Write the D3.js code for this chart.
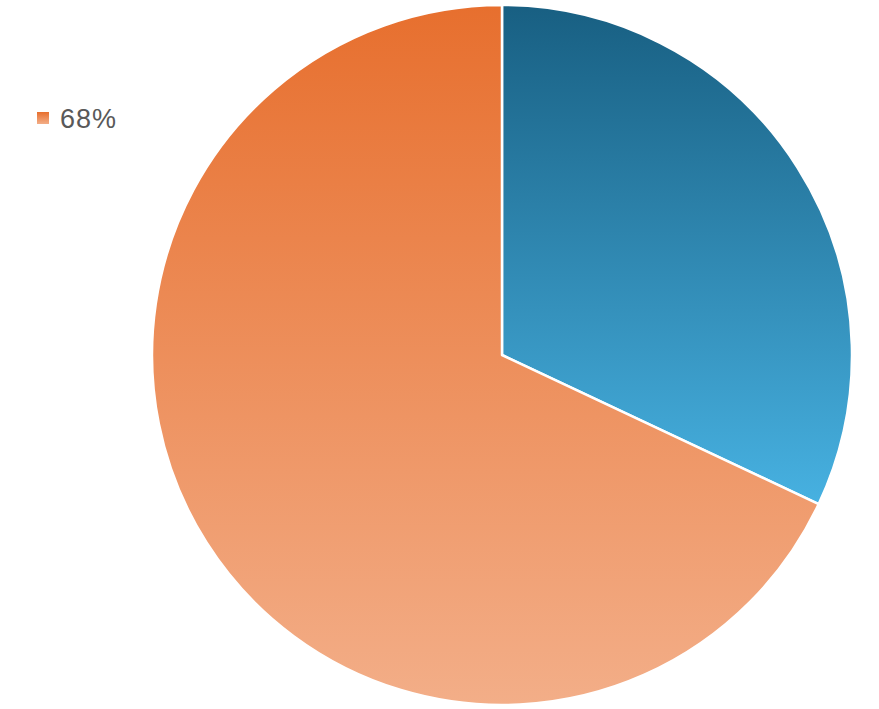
<!DOCTYPE html>
<html>
<head>
<meta charset="utf-8">
<script src="https://cdn.jsdelivr.net/npm/d3@7"></script>
<style>
  body { margin: 0; background: #fff; }
  svg { display: block; }
</style>
</head>
<body>
<svg id="chart" width="879" height="709"></svg>
<script>
// slice data
const labels = ["32%", "68%"];
const values = [32, 68];
const topColors = ["#185f82", "#e76f2e"];
const bottomColors = ["#47b1e1", "#f3ae88"];
const legendShown = ["68%"];

const svg = d3.select("#chart");
const width = 879, height = 709;
const cx = 502, cy = 355, radius = 350;

// one vertical gradient per slice
let defs = svg.append("defs");
labels.forEach(function(l, i) {
  let g = defs.append("linearGradient")
    .attr("id", "grad" + i)
    .attr("x1", 0).attr("y1", 0)
    .attr("x2", 0).attr("y2", 1);
  g.append("stop").attr("offset", "0%").attr("stop-color", topColors[i]);
  g.append("stop").attr("offset", "100%").attr("stop-color", bottomColors[i]);
});

let pie = d3.pie().sort(null).value(function(d) { return d; });
let arc = d3.arc().innerRadius(0).outerRadius(radius);

let g = svg.append("g").attr("transform", "translate(" + cx + "," + cy + ")");
g.selectAll("path")
  .data(pie(values))
  .enter().append("path")
  .attr("d", arc)
  .attr("fill", function(d, i) { return "url(#grad" + i + ")"; })
  .attr("stroke", "#fff")
  .attr("stroke-width", 2.5)
  .attr("stroke-linejoin", "round");

// legend
let legend = svg.append("g").attr("transform", "translate(37,112)");
let items = legend.selectAll("g")
  .data(legendShown)
  .enter().append("g")
  .attr("transform", function(d, i) { return "translate(0," + i * 30 + ")"; });
items.append("rect")
  .attr("width", 12).attr("height", 12)
  .attr("fill", function(d) { return "url(#grad" + labels.indexOf(d) + ")"; });
items.append("text")
  .attr("x", 23).attr("y", 6)
  .attr("dy", "0.36em")
  .attr("font-family", "Liberation Sans, Arial, sans-serif")
  .attr("font-size", 27)
  .attr("letter-spacing", 1)
  .attr("fill", "#595959")
  .text(function(d) { return d; });
</script>
</body>
</html>
